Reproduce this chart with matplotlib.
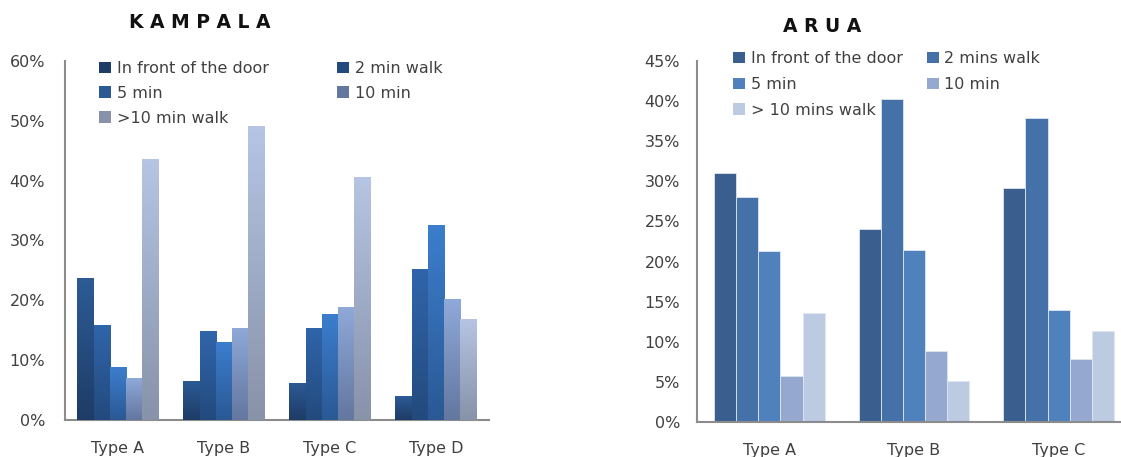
import numpy as np
import matplotlib
matplotlib.use("Agg")
import matplotlib.pyplot as plt
from matplotlib.colors import LinearSegmentedColormap
from matplotlib.patches import Patch

# ---- data -------------------------------------------------------------
kampala_types = ["Type A", "Type B", "Type C", "Type D"]
kampala_series = ["In front of the door", "2 min walk", "5 min", "10 min", ">10 min walk"]
kampala_door = [23.7, 6.6, 6.2, 4.0]
kampala_2min = [15.9, 14.8, 15.4, 25.2]
kampala_5min = [8.8, 13.1, 17.7, 32.6]
kampala_10min = [7.0, 15.4, 18.9, 20.2]
kampala_over10 = [43.6, 49.1, 40.6, 16.9]
kampala_ticks = [0, 10, 20, 30, 40, 50, 60]

arua_types = ["Type A", "Type B", "Type C"]
arua_series = ["In front of the door", "2 mins walk", "5 min", "10 min", "> 10 mins walk"]
arua_door = [31.1, 24.0, 29.2]
arua_2min = [28.1, 40.3, 37.9]
arua_5min = [21.3, 21.5, 14.0]
arua_10min = [5.7, 8.9, 7.8]
arua_over10 = [13.6, 5.1, 11.3]
arua_ticks = [0, 5, 10, 15, 20, 25, 30, 35, 40, 45]

# ---- styling ----------------------------------------------------------
TEXT = "#404040"
SPINE = "#8c8c8c"
# (top, bottom) colours of the shaded Kampala bars
kampala_grad = [("#2c5b96", "#1e3c66"),
                ("#3065ab", "#234a7d"),
                ("#3c7ecd", "#2a5994"),
                ("#8fa9d9", "#63779f"),
                ("#b5c5e3", "#8892a9")]
arua_colors = ["#3a5f8f", "#4471a7", "#4f81bd", "#95a9d0", "#bccae2"]

plt.rcParams["font.family"] = ["DejaVu Sans"]

fig = plt.figure(figsize=(11.21, 4.57), dpi=100)
fig.patch.set_facecolor("white")

W, H = 1121, 457
ax1 = fig.add_axes([65 / W, (H - 420) / H, 424 / W, 359 / H])
ax2 = fig.add_axes([697 / W, (H - 422) / H, 434 / W, 361 / H])

bw = 0.153


def style_axes(ax, ticks, ylim, ntypes, labels, ypad, xpad):
    ax.set_ylim(0, ylim)
    ax.set_xlim(-0.5, ntypes - 0.5)
    ax.set_yticks(ticks)
    ax.set_yticklabels([f"{t}%" for t in ticks], color=TEXT, fontsize=11.5)
    ax.set_xticks(range(ntypes))
    ax.set_xticklabels(labels, color=TEXT, fontsize=11.5)
    ax.tick_params(axis="y", length=0, pad=ypad)
    ax.tick_params(axis="x", length=0, pad=xpad)
    for s in ("top", "right"):
        ax.spines[s].set_visible(False)
    for s in ("left", "bottom"):
        ax.spines[s].set_color(SPINE)
        ax.spines[s].set_linewidth(1.5)
    ax.set_facecolor("white")


# ---- Kampala (shaded bars) -------------------------------------------
k_data = [kampala_door, kampala_2min, kampala_5min, kampala_10min, kampala_over10]
x1 = np.arange(len(kampala_types))
k_handles = []
for i, vals in enumerate(k_data):
    top, bot = kampala_grad[i]
    bars = ax1.bar(x1 + (i - 2) * bw, vals, bw, color=top, linewidth=0, zorder=2)
    cmap = LinearSegmentedColormap.from_list(f"g{i}", [bot, top])
    grad = np.linspace(0, 1, 256).reshape(-1, 1)
    for p in bars.patches:
        x0, y0 = p.get_x(), p.get_y()
        im = ax1.imshow(grad, cmap=cmap, origin="lower", aspect="auto",
                        extent=[x0, x0 + p.get_width(), y0, y0 + p.get_height()],
                        zorder=3, interpolation="bilinear")
        im.set_clip_path(p)
    k_handles.append(Patch(facecolor=bot, edgecolor="none"))

style_axes(ax1, kampala_ticks, 60, len(kampala_types), kampala_types, 14.4, 15)

order = [0, 2, 4, 1, 3]
ax1.legend([k_handles[j] for j in order], [kampala_series[j] for j in order],
           ncol=2, loc="upper left", bbox_to_anchor=(0.065, 1.018), frameon=False,
           fontsize=11.5, labelcolor=TEXT, handlelength=0.75, handleheight=0.75,
           handletextpad=0.35, columnspacing=4.3, labelspacing=0.62,
           borderaxespad=0)

fig.text(200 / W, 1 - 22 / H, "K A M P A L A", ha="center", va="center",
         fontsize=13.5, fontweight="bold", color="#111111")

# ---- Arua (flat bars) ------------------------------------------------
a_data = [arua_door, arua_2min, arua_5min, arua_10min, arua_over10]
x2 = np.arange(len(arua_types))
a_handles = []
for i, vals in enumerate(a_data):
    ax2.bar(x2 + (i - 2) * bw, vals, bw, color=arua_colors[i],
            edgecolor="#dfe6f1", linewidth=0.6, zorder=2)
    a_handles.append(Patch(facecolor=arua_colors[i], edgecolor="none"))

style_axes(ax2, arua_ticks, 45, len(arua_types), arua_types, 12.2, 15)

ax2.legend([a_handles[j] for j in order], [arua_series[j] for j in order],
           ncol=2, loc="upper left", bbox_to_anchor=(0.069, 1.045), frameon=False,
           fontsize=11.5, labelcolor=TEXT, handlelength=0.75, handleheight=0.75,
           handletextpad=0.35, columnspacing=1.5, labelspacing=0.68,
           borderaxespad=0)

fig.text(822 / W, 1 - 27 / H, "A R U A", ha="center", va="center",
         fontsize=13.5, fontweight="bold", color="#111111")

fig.savefig("out.png", dpi=100, facecolor="white")
